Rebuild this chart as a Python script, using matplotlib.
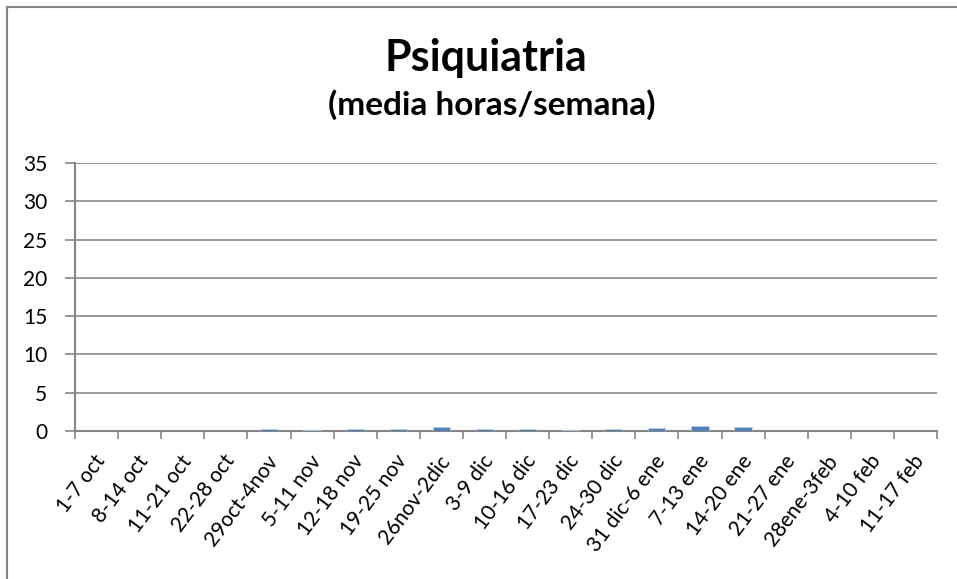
import numpy as np
import matplotlib.pyplot as plt
import matplotlib.transforms as mtransforms
from matplotlib.lines import Line2D

plt.rcParams['font.family'] = ['Lato', 'DejaVu Sans']

semanas = ['1-7 oct', '8-14 oct', '11-21 oct', '22-28 oct', '29oct-4nov',
           '5-11 nov', '12-18 nov', '19-25 nov', '26nov-2dic', '3-9 dic',
           '10-16 dic', '17-23 dic', '24-30 dic', '31 dic-6 ene', '7-13 ene',
           '14-20 ene', '21-27 ene', '28ene-3feb', '4-10 feb', '11-17 feb']
horas = [0, 0, 0, 0, 0.25, 0.12, 0.3, 0.22, 0.48, 0.28,
         0.28, 0.18, 0.22, 0.43, 0.6, 0.52, 0, 0, 0, 0]
yticks = [0, 5, 10, 15, 20, 25, 30, 35]

W, H = 957, 579
fig = plt.figure(figsize=(W / 100, H / 100), dpi=100)
ax = fig.add_axes([75 / W, 1 - 431 / H, (937 - 75) / W, (431 - 163) / H])

x = np.arange(len(semanas))
ax.bar(x, horas, width=0.4, color='#4f81bd', edgecolor='#b9cde5', linewidth=0.6, zorder=3)

ax.set_xlim(-0.5, len(semanas) - 0.5)
ax.set_ylim(0, 35)
ax.set_yticks(yticks)
ax.set_yticklabels([str(v) for v in yticks], fontsize=15)
ax.yaxis.grid(True, color='#868686', linewidth=1.2)
ax.set_axisbelow(True)

# marcas del eje x entre categorias
ax.set_xticks(np.arange(len(semanas) + 1) - 0.5)
ax.set_xticklabels([])
ax.set_xticks(x, minor=True)
ax.set_xticklabels(semanas, minor=True, rotation=53, ha='right', va='center',
                   rotation_mode='anchor', fontsize=15)
ax.tick_params(axis='x', which='minor', length=0, pad=19)
ax.tick_params(axis='x', which='major', length=6, color='#868686', width=1.2)
ax.tick_params(axis='y', length=7, color='#868686', width=1.2, pad=13)

# desplazar un poco las etiquetas giradas a la derecha
desp = mtransforms.ScaledTranslation(5 / 100, 0, fig.dpi_scale_trans)
for lbl in ax.get_xticklabels(minor=True):
    lbl.set_transform(lbl.get_transform() + desp)

for s in ['top', 'right']:
    ax.spines[s].set_visible(False)
for s in ['left', 'bottom']:
    ax.spines[s].set_color('#868686')
    ax.spines[s].set_linewidth(1.5)

fig.text(486 / W, 1 - 58 / H, 'Psiquiatria', ha='center', va='center',
         fontsize=31, fontweight='bold')
fig.text(492 / W, 1 - 105 / H, '(media horas/semana)', ha='center', va='center',
         fontsize=24, fontweight='bold')

# borde del grafico (arriba e izquierda)
fig.add_artist(Line2D([7 / W, 1], [1 - 7 / H, 1 - 7 / H], transform=fig.transFigure,
                      color='#868686', linewidth=1.5))
fig.add_artist(Line2D([7 / W, 7 / W], [0, 1 - 7 / H], transform=fig.transFigure,
                      color='#868686', linewidth=1.5))

fig.savefig('out.png', dpi=100)
